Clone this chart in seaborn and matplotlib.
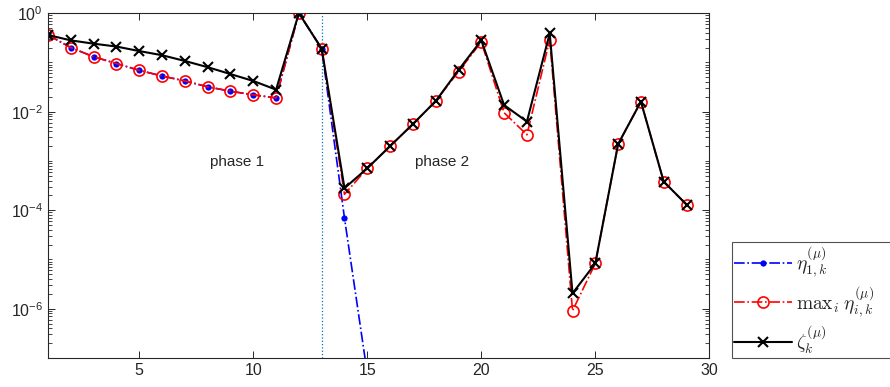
import math
import matplotlib
matplotlib.use('Agg')
import matplotlib.pyplot as plt
from matplotlib.ticker import LogLocator, FixedLocator, FuncFormatter, NullFormatter
import seaborn as sns

k = list(range(1, 30))

# eta_1 (blue), only down to k=15 (then far below axis)
eta1_k = list(range(1, 16))
eta1 = [0.36, 0.20, 0.13, 0.095, 0.069, 0.053, 0.042, 0.032, 0.026, 0.022,
        0.019, 1.0, 0.19, 6.9e-5, 4.8e-8]

# max_i eta_i (red)
eta_max = [0.36, 0.20, 0.13, 0.095, 0.069, 0.053, 0.042, 0.032, 0.026, 0.022,
           0.019, 1.0, 0.19, 2.1e-4, 7.1e-4, 2.0e-3, 5.6e-3, 0.0164, 0.065, 0.26,
           9.5e-3, 3.4e-3, 0.29, 9.1e-7, 8.3e-6, 2.2e-3, 0.016, 3.8e-4, 1.3e-4]

# zeta (black)
zeta = [0.36, 0.28, 0.24, 0.21, 0.17, 0.14, 0.107, 0.080, 0.058, 0.042,
        0.028, 1.0, 0.19, 2.8e-4, 7.1e-4, 2.0e-3, 5.6e-3, 0.0164, 0.07, 0.28,
        0.0136, 6.3e-3, 0.39, 2.05e-6, 8.3e-6, 2.2e-3, 0.016, 3.8e-4, 1.3e-4]

phase_switch = 13

sns.set_theme(style='white')
plt.rcParams['font.family'] = ['Liberation Sans', 'DejaVu Sans']
plt.rcParams['mathtext.fontset'] = 'cm'

fig = plt.figure(figsize=(8.9, 3.87), dpi=100)
ax = fig.add_axes([0.054, 0.075, 0.743, 0.891])

ax.axvline(phase_switch, color='#0072BD', linestyle=':', linewidth=0.9)

sns.lineplot(x=eta1_k, y=eta1, ax=ax, color='blue', linestyle='-.', marker='.',
             markersize=9, linewidth=1.2, markeredgewidth=0,
             label=r'$\eta_{1,k}^{(\mu)}$')
sns.lineplot(x=k, y=eta_max, ax=ax, color='red', linestyle='-.', marker='o',
             markersize=8, markerfacecolor='none', markeredgecolor='red',
             markeredgewidth=1.2, linewidth=1.2,
             label=r'$\mathrm{max}_i\;\eta_{i,k}^{(\mu)}$')
sns.lineplot(x=k, y=zeta, ax=ax, color='black', linestyle='-', marker='x',
             markersize=6.5, markeredgewidth=1.5, linewidth=1.5,
             markeredgecolor='black', label=r'$\zeta_k^{(\mu)}$')

ax.set_yscale('log')
ax.set_xlim(1, 30)
ax.set_ylim(1e-7, 1)
ax.xaxis.set_major_locator(FixedLocator([5, 10, 15, 20, 25, 30]))
ax.yaxis.set_major_locator(FixedLocator([1e-6, 1e-4, 1e-2, 1e0]))
ax.yaxis.set_minor_locator(LogLocator(base=10, subs=range(1, 10), numticks=20))
ax.yaxis.set_minor_formatter(NullFormatter())
ax.yaxis.set_major_formatter(FuncFormatter(
    lambda v, p: r'$\mathregular{10^{%d}}$' % round(math.log10(v))))

ax.tick_params(which='both', direction='in', top=True, right=True,
               bottom=True, left=True, colors='#262626', labelsize=11.5)
ax.tick_params(which='major', length=5, width=0.7)
ax.tick_params(which='minor', length=3, width=0.6)
ax.tick_params(axis='x', which='minor', bottom=False, top=False)
for s in ax.spines.values():
    s.set_color('#262626')
    s.set_linewidth(0.8)
ax.set_xlabel('')
ax.set_ylabel('')

ax.text(9.3, 9.5e-4, 'phase 1', ha='center', va='center', fontsize=11, color='#262626')
ax.text(18.3, 9.5e-4, 'phase 2', ha='center', va='center', fontsize=11, color='#262626')

handles, labels = ax.get_legend_handles_labels()
ax.legend_.remove()
leg = fig.legend(handles, labels, loc='lower left',
                 bbox_to_anchor=(0.822, 0.075, 0.2, 0.289), mode='expand',
                 fontsize=14, handlelength=3.0, handletextpad=0.2,
                 borderaxespad=0, frameon=True, fancybox=False,
                 labelspacing=0.25, borderpad=0.1)
leg.get_frame().set_edgecolor('#262626')
leg.get_frame().set_linewidth(0.8)

fig.savefig('out.png', dpi=100)
